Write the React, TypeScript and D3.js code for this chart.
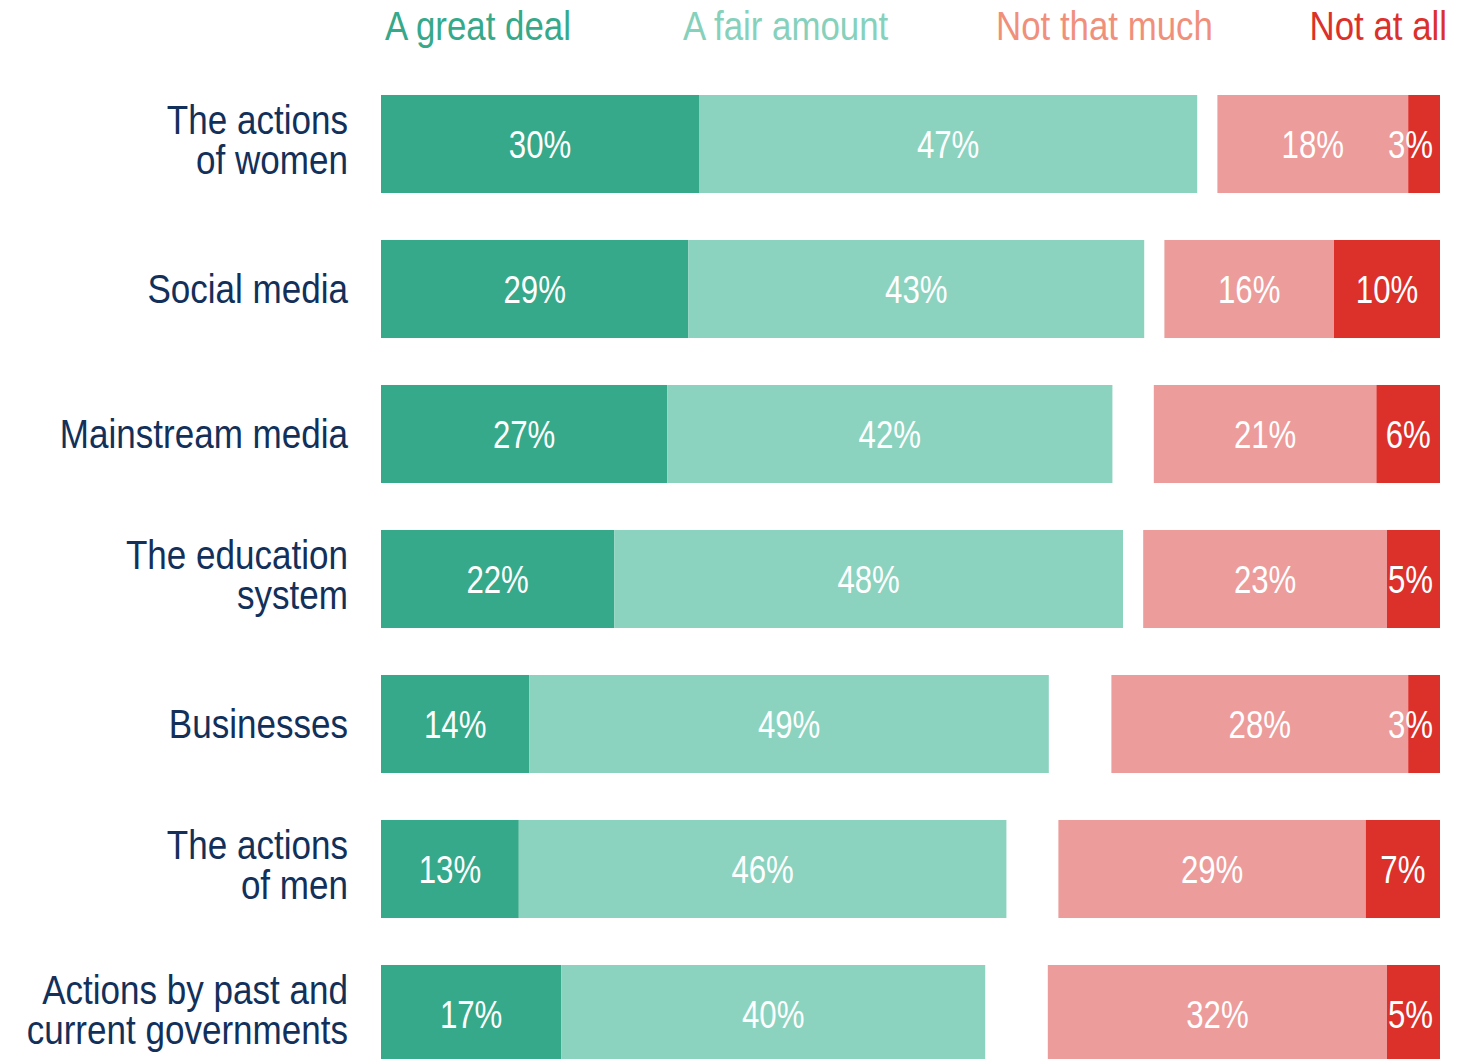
import React, { useRef, useEffect } from "react";
import * as d3 from "d3";

const categories = [
  "The actions\nof women",
  "Social media",
  "Mainstream media",
  "The education\nsystem",
  "Businesses",
  "The actions\nof men",
  "Actions by past and\ncurrent governments",
];
const seriesNames = ["A great deal", "A fair amount", "Not that much", "Not at all"];
const greatDeal = [30, 29, 27, 22, 14, 13, 17];
const fairAmount = [47, 43, 42, 48, 49, 46, 40];
const notThatMuch = [18, 16, 21, 23, 28, 29, 32];
const notAtAll = [3, 10, 6, 5, 3, 7, 5];

const fills = ["#35a98a", "#8bd3bf", "#ec9c9b", "#dc302b"];
const legendColors = ["#35a98a", "#86d1bb", "#f0907b", "#dc302b"];
const FONT = "'Liberation Sans', Arial, sans-serif";

export default function App() {
  const ref = useRef<SVGSVGElement>(null);

  useEffect(() => {
    document.body.style.margin = "0";
    const svg = d3.select(ref.current);
    svg.selectAll("*").remove();

    const left = 381;
    const right = 1440;
    const x = d3.scaleLinear().domain([0, 100]).range([0, 1060]);
    const y = d3
      .scaleBand()
      .domain(categories)
      .range([71.5, 1086.5])
      .paddingInner(0.324)
      .paddingOuter(0.162);

    // legend
    const legendX = [385, 683, 996, 1447];
    const lg = svg
      .append("g")
      .selectAll("g")
      .data(seriesNames)
      .enter()
      .append("g")
      .attr("transform", (d, i) => `translate(${legendX[i]},40) scale(0.85,1)`);
    lg.append("text")
      .attr("text-anchor", (d, i) => (i === 3 ? "end" : "start"))
      .attr("fill", (d, i) => legendColors[i])
      .style("font-family", FONT)
      .style("font-size", "41px")
      .text((d) => d);

    const rows = categories.map((c, i) => {
      const neg0 = right - x(notThatMuch[i] + notAtAll[i]);
      return [
        { v: greatDeal[i], x0: left, x1: left + x(greatDeal[i]), k: 0 },
        { v: fairAmount[i], x0: left + x(greatDeal[i]), x1: left + x(greatDeal[i] + fairAmount[i]), k: 1 },
        { v: notThatMuch[i], x0: neg0, x1: neg0 + x(notThatMuch[i]), k: 2 },
        { v: notAtAll[i], x0: neg0 + x(notThatMuch[i]), x1: right, k: 3 },
      ];
    });

    const g = svg
      .append("g")
      .selectAll("g")
      .data(categories)
      .enter()
      .append("g")
      .attr("transform", (d) => `translate(0,${y(d)})`);

    g.selectAll("rect")
      .data((d, i) => rows[i])
      .enter()
      .append("rect")
      .attr("x", (d) => d.x0)
      .attr("width", (d) => d.x1 - d.x0)
      .attr("height", y.bandwidth())
      .attr("fill", (d) => fills[d.k]);

    const bh = y.bandwidth();
    const valSX = 0.79;
    g.selectAll("g.val")
      .data((d, i) => rows[i])
      .enter()
      .append("g")
      .attr("class", "val")
      .each(function (d) {
        const gg = d3.select(this);
        const t = gg
          .append("text")
          .attr("fill", "white")
          .attr("text-anchor", "middle")
          .style("font-family", FONT)
          .style("font-size", "39.5px")
          .text(`${d.v}%`);
        const w = (t.node() as SVGTextElement).getComputedTextLength() * valSX;
        const cx = Math.min((d.x0 + d.x1) / 2, right - 7 - w / 2);
        gg.attr("transform", `translate(${cx},${bh / 2 + 14}) scale(${valSX},1)`);
      });

    // category labels
    g.append("g")
      .attr("transform", `translate(348,0) scale(0.855,1)`)
      .append("text")
      .attr("text-anchor", "end")
      .attr("fill", "#12305a")
      .style("font-family", FONT)
      .style("font-size", "41px")
      .each(function (d) {
        const lines = d.split("\n");
        const t = d3.select(this);
        const base = lines.length > 1 ? bh / 2 - 9.5 : bh / 2 + 14;
        lines.forEach((l, j) => {
          t.append("tspan").attr("x", 0).attr("y", base + j * 40).text(l);
        });
      });
  }, []);

  return <svg ref={ref} width={1468} height={1059} style={{ display: "block" }} />;
}
